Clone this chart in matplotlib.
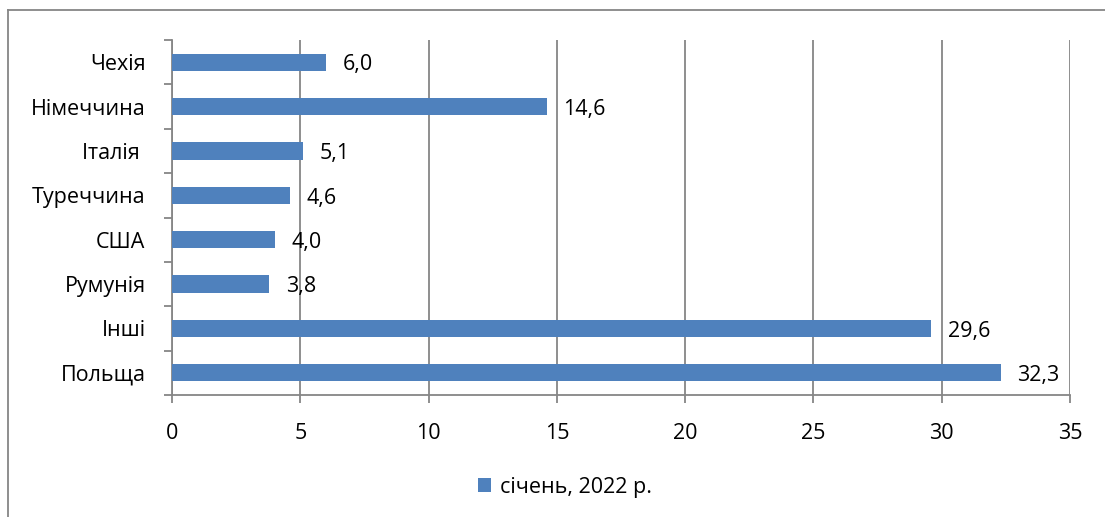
import matplotlib.pyplot as plt
from matplotlib.lines import Line2D

plt.rcParams['font.family'] = ['Open Sans', 'DejaVu Sans']

countries = ['Польща', 'Інші', 'Румунія', 'США', 'Туреччина', 'Італія ', 'Німеччина', 'Чехія']
values = [32.3, 29.6, 3.8, 4.0, 4.6, 5.1, 14.6, 6.0]
series_name = 'січень, 2022 р.'

axis_gray = '#868686'
bar_blue = '#4F81BD'
fs = 15.5

fig = plt.figure(figsize=(11.05, 5.17), dpi=100)
ax = fig.add_axes([172 / 1105, 122 / 517, 898 / 1105, 355 / 517])

y = range(len(countries))
bars = ax.barh(y, values, height=0.39, color=bar_blue, label=series_name, zorder=3)

for yi, v in zip(y, values):
    ax.annotate(f'{v:.1f}'.replace('.', ','), xy=(v, yi), xytext=(12, -2),
                textcoords='offset points', va='center', ha='left', fontsize=fs)

ax.set_xlim(0, 35)
ax.set_ylim(-0.5, len(countries) - 0.5)
ax.set_xticks(range(0, 36, 5))
ax.set_yticks([i - 0.5 for i in range(len(countries) + 1)], minor=False)
ax.set_yticklabels([])
ax.set_yticks(list(y), minor=True)
ax.set_yticklabels(countries, minor=True)

ax.grid(axis='x', color=axis_gray, linewidth=1.3, zorder=0)
for side in ['top', 'right']:
    ax.spines[side].set_visible(False)
for side in ['left', 'bottom']:
    ax.spines[side].set_color(axis_gray)
    ax.spines[side].set_linewidth(1.3)

ax.tick_params(axis='x', which='major', length=6, width=1.3, color=axis_gray,
               labelsize=fs, pad=14)
ax.tick_params(axis='y', which='major', length=6, width=1.3, color=axis_gray)
ax.tick_params(axis='y', which='minor', length=0, labelsize=fs, pad=19)

fig.legend(loc='center', bbox_to_anchor=(565 / 1105, 1 - 487 / 517), frameon=False,
           fontsize=fs, handlelength=0.6, handleheight=0.6, handletextpad=0.4)

# chart area frame
fig.add_artist(Line2D([8 / 1105, 1], [1 - 10 / 517] * 2, color=axis_gray, linewidth=1.3))
fig.add_artist(Line2D([8 / 1105] * 2, [0, 1 - 10 / 517], color=axis_gray, linewidth=1.3))

fig.savefig('out.png', dpi=100)
